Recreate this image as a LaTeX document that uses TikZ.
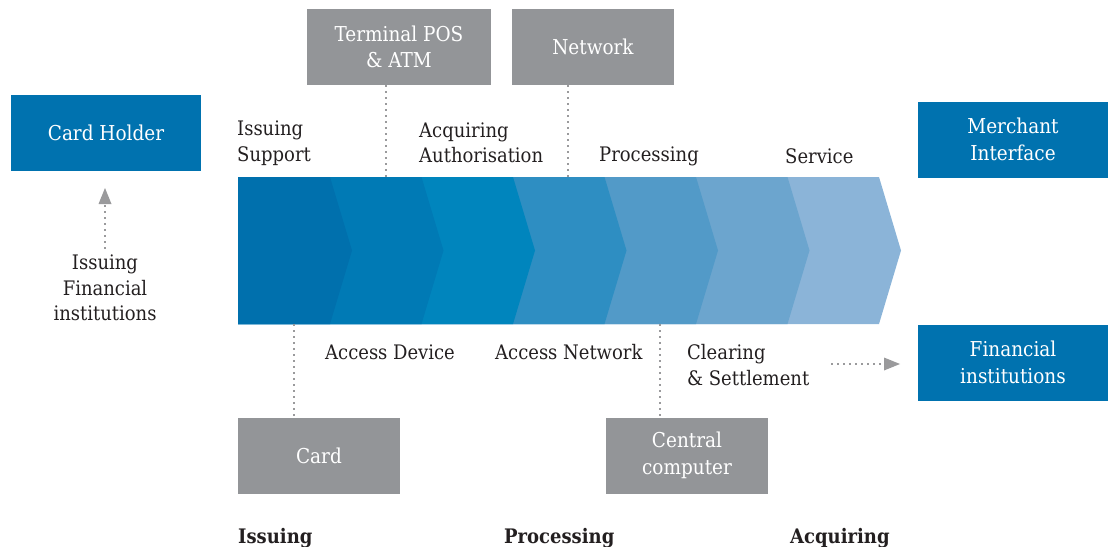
\documentclass[tikz,border=0pt]{standalone}
\usepackage{fontspec}
\setmainfont{DejaVu Serif Condensed}
\usetikzlibrary{arrows.meta}
\definecolor{boxblue}{HTML}{0072AF}
\definecolor{boxgray}{HTML}{939598}
\definecolor{txt}{HTML}{231F20}
\definecolor{dotc}{HTML}{9A9A9C}
\definecolor{cA}{HTML}{0070AD}
\definecolor{cB}{HTML}{007AB5}
\definecolor{cC}{HTML}{0085BD}
\definecolor{cD}{HTML}{2E8EC2}
\definecolor{cE}{HTML}{529AC8}
\definecolor{cF}{HTML}{6CA5CE}
\definecolor{cG}{HTML}{8BB4D8}
\tikzset{
  boxbase/.style={inner sep=0pt, text=white, align=center, font=\fontsize{20.5}{26.5}\selectfont},
  bluebox/.style={boxbase, fill=boxblue, minimum width=190pt, minimum height=76pt},
  graybox/.style={boxbase, fill=boxgray, minimum width=162pt, minimum height=76pt},
  lbl/.style={inner sep=0pt, text=txt, align=left, anchor=west, font=\fontsize{20}{25.5}\selectfont},
  foot/.style={inner sep=0pt, text=txt, anchor=base west, font=\bfseries\fontsize{20}{25}\selectfont},
  dotline/.style={draw=dotc, line width=1.8pt, dash pattern=on 1.8pt off 4.2pt},
  dotarrow/.style={dotline, -{Triangle[length=16pt,width=13pt,fill=dotc,line width=0pt,sep=0pt]}},
}
\begin{document}
\begin{tikzpicture}[x=1pt,y=-1pt]
\useasboundingbox (0,0) rectangle (1113,546);
% chevron band: drawn from right to left
\foreach \b/\c in {879/cG,787.5/cF,696/cE,604.5/cD,513/cC,421.5/cB,330/cA}{
  \fill[\c] (238,177) -- (\b,177) -- (\b+22,250.5) -- (\b,324) -- (238,324) -- cycle;
}
\coordinate (bt1) at (386,177);
\coordinate (bt2) at (568,177);
\coordinate (bb1) at (294,324);
\coordinate (bb2) at (660,324);
% boxes
\node[bluebox] (ch) at (106,132.5) {Card Holder};
\node[graybox, minimum width=184pt] (tp) at (399,47) {Terminal POS\\\& ATM};
\node[graybox] (nw) at (593,47) {Network};
\node[bluebox] (mi) at (1013,139.5) {Merchant\\Interface};
\node[bluebox] (fi) at (1013,362.5) {Financial\\institutions};
\node[graybox] (cd) at (319,455.5) {Card};
\node[graybox] (cc) at (687,455.5) {Central\\computer};
% labels
\node[lbl] (l1) at (237,143) {Issuing\\Support};
\node[lbl] (l2) at (419,143) {Acquiring\\Authorisation};
\node[lbl] (l3) at (599,156) {Processing};
\node[lbl] (l4) at (785,156) {Service};
\node[lbl] (l5) at (325,352) {Access Device};
\node[lbl] (l6) at (495,352) {Access Network};
\node[lbl] (l7) at (687,365) {Clearing\\\& Settlement};
\node[inner sep=0pt, text=txt, align=center, font=\fontsize{20}{25.5}\selectfont] (ifi) at (105,288) {Issuing\\Financial\\institutions};
\node[foot] (f1) at (238,543) {Issuing};
\node[foot] (f2) at (504,543) {Processing};
\node[foot] (f3) at (790,543) {Acquiring};
% connectors
\draw[dotline] (tp.south -| bt1) -- (bt1);
\draw[dotline] (nw.south -| bt2) -- (bt2);
\draw[dotline] (bb1) -- (cd.north -| bb1);
\draw[dotline] (bb2) -- (cc.north -| bb2);
\coordinate (ua) at (105,188);
\draw[dotarrow] (ifi.north) ++(0,-6) -- (ua);
\coordinate (ra1) at (831,364);
\coordinate (ra2) at (900,364);
\draw[dotarrow] (ra1) -- (ra2);
\end{tikzpicture}
\end{document}
